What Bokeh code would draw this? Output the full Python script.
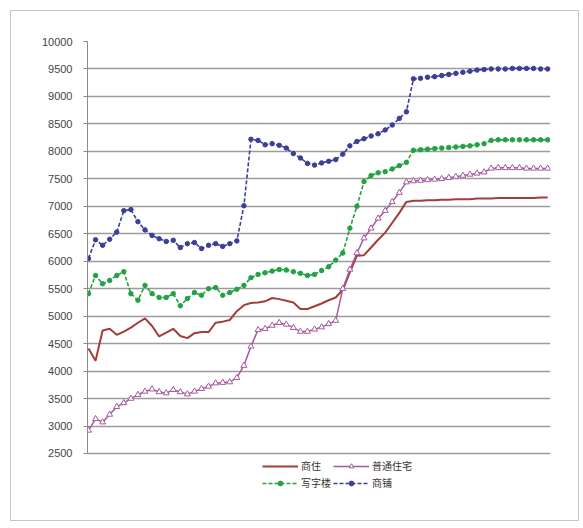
from bokeh.plotting import figure
from bokeh.layouts import column
from bokeh.models import Range1d, FixedTicker, Legend, LegendItem
from bokeh.embed import file_html
from bokeh.resources import INLINE

periods = list(range(66))

shangzhu = [4410, 4190, 4740, 4770, 4660, 4720, 4790, 4880, 4960, 4820,
            4630, 4700, 4770, 4640, 4600, 4690, 4710, 4710, 4880, 4900,
            4930, 5090, 5200, 5240, 5250, 5270, 5330, 5310, 5280, 5250,
            5130, 5130, 5180, 5230, 5290, 5340, 5480, 5800, 6100, 6110,
            6250, 6390, 6520, 6700, 6880, 7080, 7100, 7100, 7110, 7110,
            7120, 7120, 7130, 7130, 7130, 7140, 7140, 7140, 7150, 7150,
            7150, 7150, 7150, 7150, 7160, 7160]

putong = [2920, 3130, 3070, 3210, 3350, 3420, 3500, 3570, 3630, 3670,
          3620, 3600, 3660, 3620, 3580, 3630, 3680, 3720, 3780, 3790,
          3800, 3880, 4100, 4450, 4750, 4770, 4830, 4880, 4850, 4790,
          4720, 4720, 4760, 4800, 4860, 4920, 5500, 5850, 6150, 6420,
          6600, 6780, 6920, 7080, 7250, 7440, 7460, 7470, 7480, 7490,
          7500, 7520, 7540, 7560, 7580, 7600, 7620, 7690, 7700, 7700,
          7700, 7700, 7690, 7690, 7690, 7690]

xiezilou = [5410, 5740, 5590, 5650, 5740, 5810, 5410, 5290, 5560, 5410,
            5340, 5340, 5410, 5190, 5320, 5430, 5380, 5500, 5520, 5380,
            5430, 5490, 5560, 5700, 5760, 5790, 5820, 5850, 5840, 5810,
            5780, 5740, 5760, 5830, 5900, 6020, 6150, 6600, 7000, 7450,
            7560, 7610, 7630, 7680, 7740, 7800, 8020, 8030, 8040, 8050,
            8060, 8070, 8080, 8090, 8100, 8120, 8140, 8200, 8210, 8210,
            8210, 8210, 8210, 8210, 8210, 8210]

shangpu = [6050, 6390, 6290, 6400, 6530, 6920, 6940, 6720, 6570, 6470,
           6410, 6360, 6380, 6250, 6320, 6340, 6230, 6290, 6320, 6270,
           6320, 6370, 7010, 8220, 8200, 8120, 8140, 8110, 8060, 7960,
           7880, 7780, 7750, 7790, 7820, 7850, 7950, 8100, 8180, 8230,
           8280, 8320, 8390, 8480, 8600, 8720, 9320, 9330, 9350, 9360,
           9380, 9400, 9420, 9440, 9460, 9480, 9490, 9500, 9500, 9500,
           9510, 9510, 9510, 9510, 9500, 9500]

names = ["商住", "普通住宅", "写字楼", "商铺"]
y_ticks = list(range(2500, 10001, 500))

# frame extends below the 2500 baseline so the legend can sit inside it
p = figure(width=567, height=509, output_backend="svg", toolbar_location=None,
           x_range=Range1d(-0.14, 65.4), y_range=Range1d(1462, 10000),
           min_border_left=76, min_border_right=28, min_border_top=30,
           min_border_bottom=10)
p.outline_line_color = None
p.background_fill_color = "white"
p.border_fill_color = "white"

p.xaxis.visible = False
p.xgrid.visible = False
p.ygrid.ticker = FixedTicker(ticks=y_ticks)
p.ygrid.grid_line_color = "#9c9c9c"
p.ygrid.grid_line_width = 1.4

yax = p.yaxis[0]
yax.ticker = FixedTicker(ticks=y_ticks)
yax.bounds = (2500, 10000)
yax.axis_line_color = "#8a8a8a"
yax.major_tick_line_color = "#8a8a8a"
yax.major_tick_out = 4
yax.major_tick_in = 0
yax.minor_tick_line_color = None
yax.major_label_text_font = "Liberation Sans"
yax.major_label_text_font_size = "11px"
yax.major_label_text_color = "#444444"
yax.major_label_standoff = 11

red = "#A33D38"
purple = "#A8599E"
green = "#22A243"
blue = "#3B3F98"

r1 = p.line(periods, shangzhu, line_color=red, line_width=2)
r2 = p.line(periods, putong, line_color=purple, line_width=1.5)
r2m = p.scatter(periods, putong, marker="triangle", size=6, line_color=purple,
                fill_color="white", line_width=1)
r3 = p.line(periods, xiezilou, line_color=green, line_width=1.6, line_dash="4 2")
r3m = p.scatter(periods, xiezilou, marker="circle", size=4.5, line_color=green,
                fill_color=green)
r4 = p.line(periods, shangpu, line_color=blue, line_width=1.6, line_dash="4 2")
r4m = p.scatter(periods, shangpu, marker="circle", size=4.5, line_color=blue,
                fill_color=blue)

legend = Legend(items=[
    LegendItem(label=names[0], renderers=[r1]),
    LegendItem(label=names[1], renderers=[r2, r2m]),
    LegendItem(label=names[2], renderers=[r3, r3m]),
    LegendItem(label=names[3], renderers=[r4, r4m]),
], orientation="horizontal", ncols=2, location=(175, 20))
legend.label_text_font = "Noto Sans CJK SC"
legend.label_text_font_size = "10px"
legend.label_text_color = "#333333"
legend.glyph_width = 36
legend.glyph_height = 12
legend.label_height = 12
legend.label_standoff = 3
legend.spacing = 2
legend.padding = 0
legend.margin = 0
legend.border_line_color = None
legend.background_fill_alpha = 0
p.add_layout(legend, "center")

layout = column(p, styles={"margin-left": "10px", "margin-top": "10px",
                           "border": "1px solid #c4c4c4"})

open("out.html", "w").write(file_html(layout, INLINE))
